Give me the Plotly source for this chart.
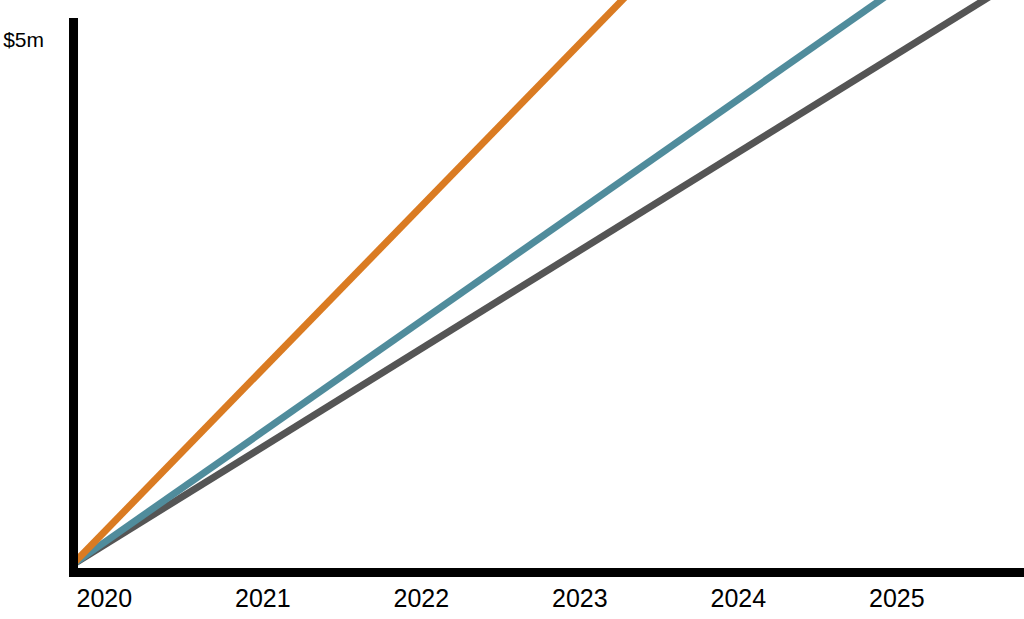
import plotly.graph_objects as go

# Data
years = [2020, 2021, 2022, 2023, 2024, 2025, 2026]
orange_vals = [0, 1.55e6, 3.10e6, 4.65e6, 6.20e6, 7.75e6, 9.30e6]
blue_vals = [0, 1.055e6, 2.11e6, 3.165e6, 4.22e6, 5.275e6, 6.33e6]
gray_vals = [0, 0.935e6, 1.87e6, 2.805e6, 3.74e6, 4.675e6, 5.61e6]
x_tick_vals = [2020, 2021, 2022, 2023, 2024, 2025]
x_tick_text = ["2020", "2021", "2022", "2023", "2024", "2025"]
y_tick_vals = [5e6]
y_tick_text = ["$5m"]

FONT = "Liberation Sans, Arial, sans-serif"

fig = go.Figure()
for vals, color in [(gray_vals, "#555555"), (blue_vals, "#508C9C"), (orange_vals, "#DA7B22")]:
    fig.add_trace(go.Scatter(x=years, y=vals, mode="lines",
                             line=dict(color=color, width=7), hoverinfo="skip"))

PLOT_H = 568
# y axis line drawn as a shape anchored at the first year (starts 18px below top)
fig.add_shape(type="rect", xref="x", yref="paper", xsizemode="pixel", xanchor=years[0],
              x0=-3, x1=6, y0=-9 / PLOT_H, y1=(PLOT_H - 18) / PLOT_H,
              fillcolor="black", line=dict(width=0), layer="above")

fig.update_layout(
    width=1024, height=619,
    margin=dict(l=69, r=0, t=0, b=51, pad=0),
    paper_bgcolor="white", plot_bgcolor="white",
    showlegend=False,
    font=dict(family=FONT, color="black"),
)
fig.update_xaxes(range=[2019.981, 2026.006], tickvals=x_tick_vals, ticktext=x_tick_text,
                 showline=True, linewidth=9, linecolor="black", showgrid=False, zeroline=False,
                 automargin=False,
                 ticks="", ticklabelposition="outside right", tickfont=dict(size=25, color="black"))
fig.update_yaxes(range=[-0.0286e6, 5.381e6], tickvals=y_tick_vals, ticktext=y_tick_text,
                 showline=False, showgrid=False, zeroline=False, automargin=False,
                 ticks="", ticklabelstandoff=24, tickfont=dict(size=21, color="black"))

fig.write_html("out.html", config={"displayModeBar": False},
               post_script="document.body.style.margin='0';document.body.style.overflow='hidden';")
